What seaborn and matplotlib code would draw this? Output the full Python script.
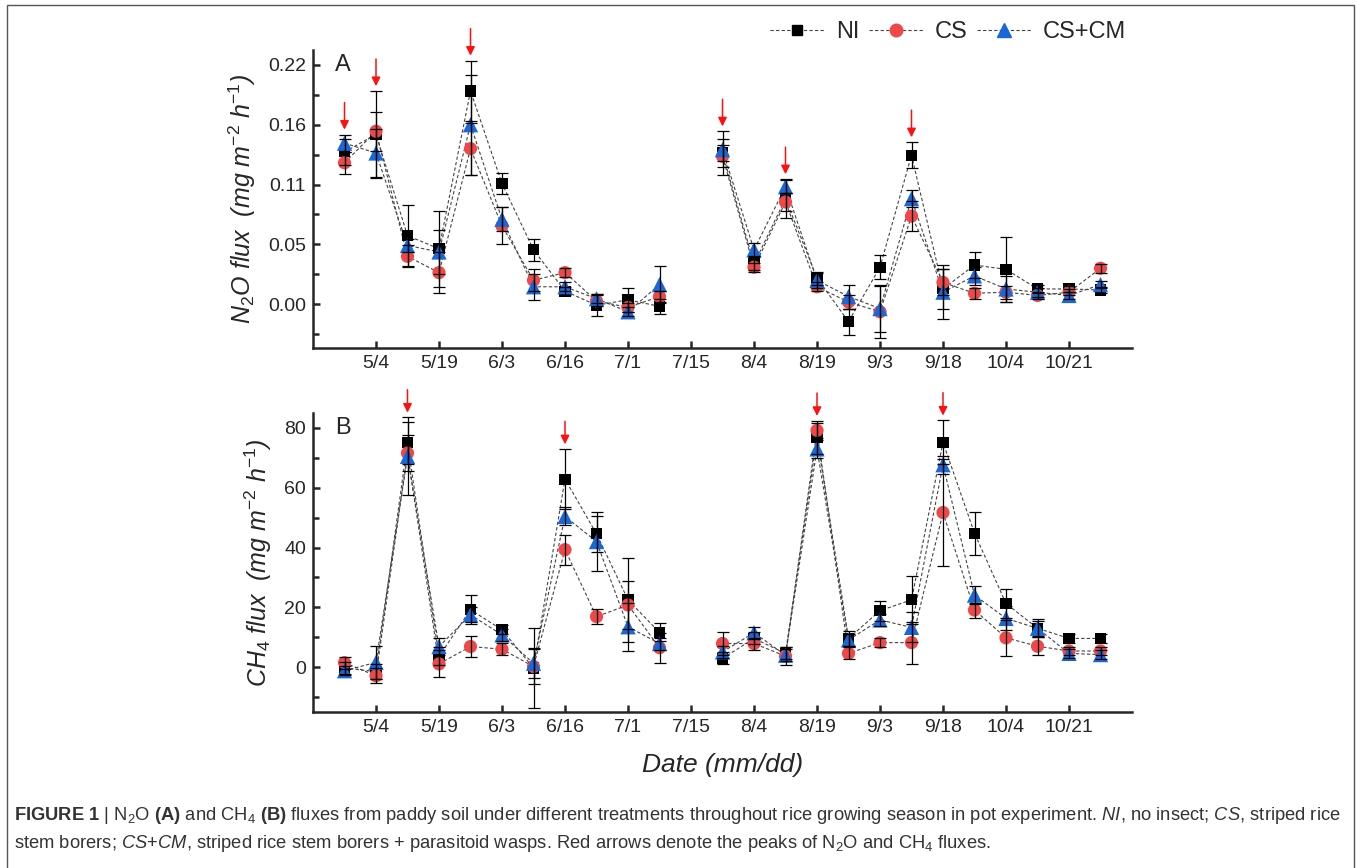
import numpy as np
import pandas as pd
import matplotlib
matplotlib.use('Agg')
import matplotlib.pyplot as plt
import matplotlib.patches as patches
import seaborn as sns

# Sampling positions (index along the season, 7/15 has no data)
x_index = list(range(25))
tick_pos = [1, 3, 5, 7, 9, 11, 13, 15, 17, 19, 21, 23]
tick_labels = ['5/4', '5/19', '6/3', '6/16', '7/1', '7/15', '8/4', '8/19', '9/3', '9/18', '10/4', '10/21']
nan = np.nan

# N2O flux (mg m-2 h-1)
n2o_ni = [0.140, 0.156, 0.063, 0.051, 0.196, 0.111, 0.050, 0.012, -0.001, 0.004, -0.002, nan, 0.139,
          0.037, 0.097, 0.024, -0.016, 0.034, 0.137, 0.014, 0.036, 0.032, 0.014, 0.014, 0.013]
n2o_cs = [0.130, 0.159, 0.044, 0.029, 0.143, 0.072, 0.022, 0.029, 0.003, -0.003, 0.007, nan, 0.136,
          0.034, 0.094, 0.016, 0.002, -0.007, 0.081, 0.020, 0.010, 0.011, 0.008, 0.011, 0.033]
n2o_cm = [0.148, 0.139, 0.054, 0.048, 0.165, 0.078, 0.016, 0.016, 0.005, -0.007, 0.018, nan, 0.142,
          0.050, 0.108, 0.022, 0.007, -0.004, 0.097, 0.011, 0.026, 0.014, 0.011, 0.008, 0.018]
n2o_ni_err = [0.012, 0.040, 0.028, 0.035, 0.028, 0.010, 0.010, 0.004, 0.010, 0.011, 0.007, nan, 0.020,
              0.006, 0.018, 0.006, 0.012, 0.011, 0.012, 0.018, 0.012, 0.030, 0.004, 0.003, 0.003]
n2o_cs_err = [0.010, 0.018, 0.010, 0.019, 0.024, 0.017, 0.010, 0.004, 0.005, 0.004, 0.005, nan, 0.010,
              0.004, 0.008, 0.004, 0.006, 0.024, 0.014, 0.012, 0.005, 0.006, 0.003, 0.003, 0.004]
n2o_cm_err = [0.008, 0.022, 0.006, 0.020, 0.046, 0.011, 0.012, 0.004, 0.004, 0.004, 0.017, nan, 0.010,
              0.006, 0.006, 0.007, 0.011, 0.022, 0.008, 0.025, 0.008, 0.012, 0.004, 0.003, 0.003]

# CH4 flux (mg m-2 h-1)
ch4_ni = [-0.3, -1.5, 75.0, 3.6, 19.2, 12.5, -0.3, 62.9, 44.6, 22.5, 11.6, nan, 2.9,
          9.6, 4.6, 76.9, 9.6, 18.9, 22.5, 75.2, 44.8, 21.3, 13.0, 9.6, 9.6]
ch4_cs = [1.5, -2.9, 71.6, 1.1, 6.9, 6.0, 0.2, 39.3, 16.9, 20.8, 6.5, nan, 7.9,
          7.9, 3.7, 79.2, 4.6, 8.2, 8.2, 51.7, 19.1, 9.8, 7.0, 5.4, 5.4]
ch4_cm = [-1.2, 1.6, 70.5, 6.9, 17.5, 10.8, 1.3, 50.4, 42.0, 13.5, 7.9, nan, 5.1,
          11.5, 4.0, 73.0, 9.1, 15.8, 13.3, 67.7, 24.1, 16.3, 13.0, 4.6, 4.2]
ch4_ni_err = [2.0, 2.5, 7.0, 3.0, 4.8, 1.5, 13.5, 10.0, 6.0, 14.0, 3.0, nan, 2.0,
              2.0, 2.0, 5.5, 2.5, 3.3, 8.0, 7.3, 7.2, 4.8, 3.0, 1.5, 1.5]
ch4_cs_err = [2.0, 2.5, 6.0, 4.5, 3.6, 2.0, 6.0, 5.0, 2.5, 8.0, 5.0, nan, 3.9,
              2.0, 3.0, 2.5, 2.0, 1.5, 7.0, 18.0, 2.5, 6.0, 3.0, 1.5, 1.5]
ch4_cm_err = [1.5, 5.4, 13.0, 3.0, 2.5, 2.0, 5.0, 3.0, 10.0, 8.0, 2.0, nan, 2.0,
              2.0, 2.0, 3.0, 2.0, 2.0, 5.0, 3.0, 3.0, 4.0, 2.5, 1.5, 1.5]

# peaks marked with red arrows
n2o_peaks = [0, 1, 4, 12, 14, 18]
ch4_peaks = [2, 7, 15, 19]

treatments = ['NI', 'CS', 'CS+CM']
colors = {'NI': '#000000', 'CS': '#F04848', 'CS+CM': '#1A68D8'}
markers = {'NI': 's', 'CS': 'o', 'CS+CM': '^'}
msizes = {'NI': 8, 'CS': 9.5, 'CS+CM': 11}

sns.set_style('ticks')
plt.rcParams['font.family'] = ['Liberation Sans', 'DejaVu Sans']
plt.rcParams['mathtext.fontset'] = 'custom'
plt.rcParams['mathtext.rm'] = 'Liberation Sans'
plt.rcParams['mathtext.it'] = 'Liberation Sans:italic'
plt.rcParams['mathtext.bf'] = 'Liberation Sans:bold'

fig = plt.figure(figsize=(13.57, 8.68), dpi=100)
W, H = 1357, 868
ax1 = fig.add_axes([313 / W, 1 - 348 / H, (1132 - 313) / W, (348 - 50) / H])
ax2 = fig.add_axes([313 / W, 1 - 712 / H, (1132 - 313) / W, (712 - 413) / H])


def draw_panel(ax, vals, errs, peaks, arrow_len):
    df = pd.DataFrame({'x': x_index})
    for t in treatments:
        df[t] = vals[t]
        df[t + '_err'] = errs[t]
    long = df.melt(id_vars='x', value_vars=treatments, var_name='trt', value_name='y').dropna()
    for t in treatments:
        ax.plot(df['x'], df[t], ls=(0, (3, 2)), lw=0.8, color='#444444', zorder=1)
    for t in treatments:
        sns.scatterplot(data=long[long['trt'] == t], x='x', y='y', marker=markers[t],
                        color=colors[t], s=msizes[t] ** 2, edgecolor='none', ax=ax, zorder=2,
                        legend=False)
    for t in treatments:
        ax.errorbar(df['x'], df[t], yerr=df[t + '_err'], fmt='none', ecolor='black',
                    elinewidth=0.9, capsize=4, capthick=0.9, zorder=3)
    for i in peaks:
        top = np.nanmax([vals[t][i] + errs[t][i] for t in treatments])
        ax.annotate('', xy=(i, top), xytext=(0, arrow_len), textcoords='offset points',
                    arrowprops=dict(arrowstyle='-|>', color='#FF1010', lw=1.1,
                                    mutation_scale=13, shrinkA=0, shrinkB=3.5),
                    annotation_clip=False)
    ax.set_xlim(-1, 25)
    ax.set_xticks(tick_pos)
    ax.set_xticklabels(tick_labels)
    for s in ['top', 'right']:
        ax.spines[s].set_visible(False)
    for s in ['left', 'bottom']:
        ax.spines[s].set_linewidth(1.8)
    ax.tick_params(axis='both', which='major', direction='in', length=5, width=1.8,
                   labelsize=14, pad=5)
    ax.tick_params(axis='y', which='minor', direction='in', length=4, width=1.8)
    ax.set_xlabel('')
    ax.set_ylabel('')


draw_panel(ax1, {'NI': n2o_ni, 'CS': n2o_cs, 'CS+CM': n2o_cm},
           {'NI': n2o_ni_err, 'CS': n2o_cs_err, 'CS+CM': n2o_cm_err}, n2o_peaks, 23)
ax1.set_ylim(-0.0403, 0.2337)
ax1.set_yticks([0, 0.055, 0.11, 0.165, 0.22])
ax1.set_yticklabels(['0.00', '0.05', '0.11', '0.16', '0.22'])
ax1.set_yticks([-0.0275, 0.0275, 0.0825, 0.1375, 0.1925], minor=True)
ax1.set_ylabel('N$_2$O flux  (mg m$^{-2}$ h$^{-1}$)', fontsize=18, style='italic', labelpad=7)
ax1.text(0.027, 0.95, 'A', transform=ax1.transAxes, fontsize=17, va='center', ha='left')

draw_panel(ax2, {'NI': ch4_ni, 'CS': ch4_cs, 'CS+CM': ch4_cm},
           {'NI': ch4_ni_err, 'CS': ch4_cs_err, 'CS+CM': ch4_cm_err}, ch4_peaks, 20)
ax2.set_ylim(-15, 85)
ax2.set_yticks([0, 20, 40, 60, 80])
ax2.set_yticks([-10, 10, 30, 50, 70], minor=True)
ax2.set_ylabel('CH$_4$ flux  (mg m$^{-2}$ h$^{-1}$)', fontsize=18, style='italic', labelpad=7)
ax2.set_xlabel('Date (mm/dd)', fontsize=19, style='italic', labelpad=12)
ax2.text(0.027, 0.95, 'B', transform=ax2.transAxes, fontsize=17, va='center', ha='left')

# legend on top
handles = [plt.Line2D([], [], ls=(0, (3, 2)), lw=0.8, color='#444444', marker=markers[t],
                      markersize=msizes[t] * 0.95, markerfacecolor=colors[t],
                      markeredgecolor=colors[t]) for t in treatments]
fig.legend(handles, treatments, loc='center', bbox_to_anchor=(948 / W, 1 - 32 / H), ncol=3,
           frameon=False, fontsize=17, handlelength=2.3, handletextpad=0.5,
           columnspacing=0.4)

# frame around figure
fig.patches.append(patches.Rectangle((7 / W, -0.02), (1354 - 7) / W, 1.02 - 5 / H,
                                     transform=fig.transFigure, fill=False,
                                     edgecolor='#555555', lw=1.0))

cap1 = (r'$\mathbf{FIGURE\ 1}$ | N$_2$O $\mathbf{(A)}$ and CH$_4$ $\mathbf{(B)}$ fluxes from paddy '
        r'soil under different treatments throughout rice growing season in pot experiment. '
        r'$\mathit{NI}$, no insect; $\mathit{CS}$, striped rice')
cap2 = (r'stem borers; $\mathit{CS}$+$\mathit{CM}$, striped rice stem borers + parasitoid wasps. '
        r'Red arrows denote the peaks of N$_2$O and CH$_4$ fluxes.')
fig.text(14 / W, 1 - 816 / H, cap1, fontsize=13.2, color='#333333', va='center', ha='left')
fig.text(14 / W, 1 - 843 / H, cap2, fontsize=13.2, color='#333333', va='center', ha='left')

fig.savefig('out.png', dpi=100)
